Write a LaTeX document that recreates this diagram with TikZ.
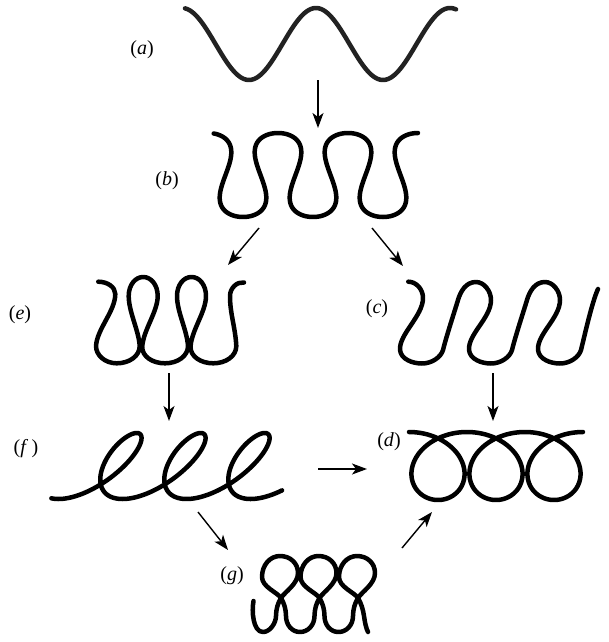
\documentclass[tikz,border=0pt]{standalone}
\usepackage{fontspec}
\setmainfont{Liberation Serif}
\usetikzlibrary{arrows.meta}
\begin{document}
\begin{tikzpicture}[x=1pt,y=-1pt,
  curve/.style={line width=4.5pt, line cap=round, line join=round},
  arr/.style={line width=1.4pt, -{Stealth[length=15pt,width=11pt,inset=4pt]}},
  lab/.style={font=\fontsize{20}{22}\selectfont, inner sep=0pt}]
\useasboundingbox (0,0) rectangle (608,642);
% (a)
\draw[curve, color={rgb,255:red,34;green,34;blue,34}] plot[domain=185:456, samples=160, variable=\x] (\x, {44-36*cos(2.6866*(\x-316))});
% (b)
\draw[curve] plot[domain=-2.99:15.71, samples=400, variable=\t] ({243+11.14*(\t+1.2*sin(2*\t r))}, {175+42*cos(\t r)});
% (c)
\draw[curve] (408.3,281.7) .. controls (416,281.7) and (423,289) .. (423,298)
  .. controls (423,316) and (399,334) .. (400,350)
  .. controls (401,359) and (412,363.5) .. (422,363.5)
  .. controls (432,363.5) and (441,357) .. (443,350)
  .. controls (446.75,335) and (454.4,312) .. (458,300)
  .. controls (460.7,291) and (466,282) .. (476,282)
  .. controls (484,282) and (491,291) .. (491,300)
  .. controls (491,318) and (468,334) .. (469,350)
  .. controls (470,359) and (481,363.5) .. (491,363.5)
  .. controls (501,363.5) and (510,357) .. (512,350)
  .. controls (515.75,335) and (523.4,312) .. (527,300)
  .. controls (529.7,291) and (535,282) .. (545,282)
  .. controls (553,282) and (560,291) .. (560,300)
  .. controls (560,318) and (537,334) .. (538,350)
  .. controls (539,359) and (550,363.5) .. (560,363.5)
  .. controls (570,363.5) and (579,357) .. (581,350)
  .. controls (584.75,335) and (592,302) .. (598,289);
% (d)
\draw[curve] plot[domain=-3.1416:15.708, samples=400, variable=\t] ({438+9.23*\t-40*sin(\t r)}, {466+34*cos(\t r)});
% (e)
\draw[curve] (98.3,281.7) .. controls (107.3,281.7) and (115.3,287) .. (115.3,294)
  .. controls (115.3,311) and (97,329) .. (96,346)
  .. controls (96,355.5) and (105.3,363.3) .. (116.7,363.3)
  .. controls (129.4,363.3) and (139.7,356) .. (139.7,346)
  .. controls (138.7,330) and (128.7,312) .. (128.7,296)
  .. controls (128.7,285) and (135.2,277) .. (143.2,277)
  .. controls (151.2,277) and (157.7,285) .. (157.7,296)
  .. controls (157.7,312) and (143.2,330) .. (142.2,347)
  .. controls (142.2,356.5) and (152.4,363.3) .. (165,363.3)
  .. controls (177.7,363.3) and (188,356) .. (188,346)
  .. controls (187,330) and (177,312) .. (177,296)
  .. controls (177,285) and (183.5,277) .. (191.5,277)
  .. controls (199.5,277) and (206,285) .. (206,296)
  .. controls (206,312) and (191.5,330) .. (190.5,347)
  .. controls (190.5,356.5) and (200.7,363.3) .. (213.3,363.3)
  .. controls (226,363.3) and (236.3,356) .. (236.3,346)
  .. controls (235.3,327) and (230,314) .. (230,296)
  .. controls (230,288) and (237,281.5) .. (244,282.5);
% (f)
\draw[curve] plot[domain=-3.35:16.45, samples=400, variable=\t] ({113.6+10.19*\t-26.5*sin(\t r)+23.1*cos(\t r)}, {466-33*cos(\t r)});
% (g)
\draw[curve] (253.5,601) .. controls (251.5,611) and (253,632) .. (263,632)
  .. controls (270,632) and (276,623) .. (276,616)
  .. controls (276,609) and (278,602.8) .. (281,598)
  .. controls (285,591.6) and (298,584) .. (298,573)
  .. controls (298,563) and (290,556) .. (280,556)
  .. controls (270,556) and (262,565) .. (262,577)
  .. controls (262,587) and (277.5,592.4) .. (281,598)
  .. controls (284,603) and (286,609) .. (286,616)
  .. controls (286,625) and (292,632) .. (300,632)
  .. controls (308,632) and (314.5,625) .. (314.5,616)
  .. controls (314.5,609) and (316.5,602.8) .. (319.5,598)
  .. controls (323.5,591.6) and (336.5,584) .. (336.5,573)
  .. controls (336.5,563) and (328.5,556) .. (318.5,556)
  .. controls (308.5,556) and (300.5,565) .. (300.5,577)
  .. controls (300.5,587) and (316,592.4) .. (319.5,598)
  .. controls (322.5,603) and (324.5,609) .. (324.5,616)
  .. controls (324.5,625) and (330.5,632) .. (338.5,632)
  .. controls (346.5,632) and (353,625) .. (353,616)
  .. controls (353,609) and (355,602.8) .. (358,598)
  .. controls (362,591.6) and (375,584) .. (375,573)
  .. controls (375,563) and (367,556) .. (357,556)
  .. controls (347,556) and (339,565) .. (339,577)
  .. controls (339,587) and (354.5,592.4) .. (358,598)
  .. controls (361,603) and (363,609) .. (364,616)
  .. controls (365,623) and (366,628) .. (368,632);
% labels
\node[lab] (la) at (142,50) {(\textit{a})};
\node[lab] (lb) at (167,181) {(\textit{b})};
\node[lab] (le) at (20,315) {(\textit{e})};
\node[lab] (lc) at (377,309) {(\textit{c})};
\node[lab] (lf) at (26,449) {(\textit{f}\,)};
\node[lab] (ld) at (389,442) {(\textit{d})};
\node[lab] (lg) at (232,576) {(\textit{g})};
% arrow anchors
\coordinate (a1) at (318,80);  \coordinate (b1) at (318,128);
\coordinate (b2) at (259,228); \coordinate (e1) at (228,265);
\coordinate (b3) at (372,228); \coordinate (c1) at (403,266);
\coordinate (e2) at (169,373); \coordinate (f1) at (169,421);
\coordinate (c2) at (493,373); \coordinate (d1) at (493,421);
\coordinate (f2) at (318,469); \coordinate (d2) at (367,469);
\coordinate (f3) at (198,512); \coordinate (g1) at (228,550);
\coordinate (g2) at (402,548); \coordinate (d3) at (432,512);
\draw[arr] (a1) -- (b1);
\draw[arr] (b2) -- (e1);
\draw[arr] (b3) -- (c1);
\draw[arr] (e2) -- (f1);
\draw[arr] (c2) -- (d1);
\draw[arr] (f2) -- (d2);
\draw[arr] (f3) -- (g1);
\draw[arr] (g2) -- (d3);
\end{tikzpicture}
\end{document}
